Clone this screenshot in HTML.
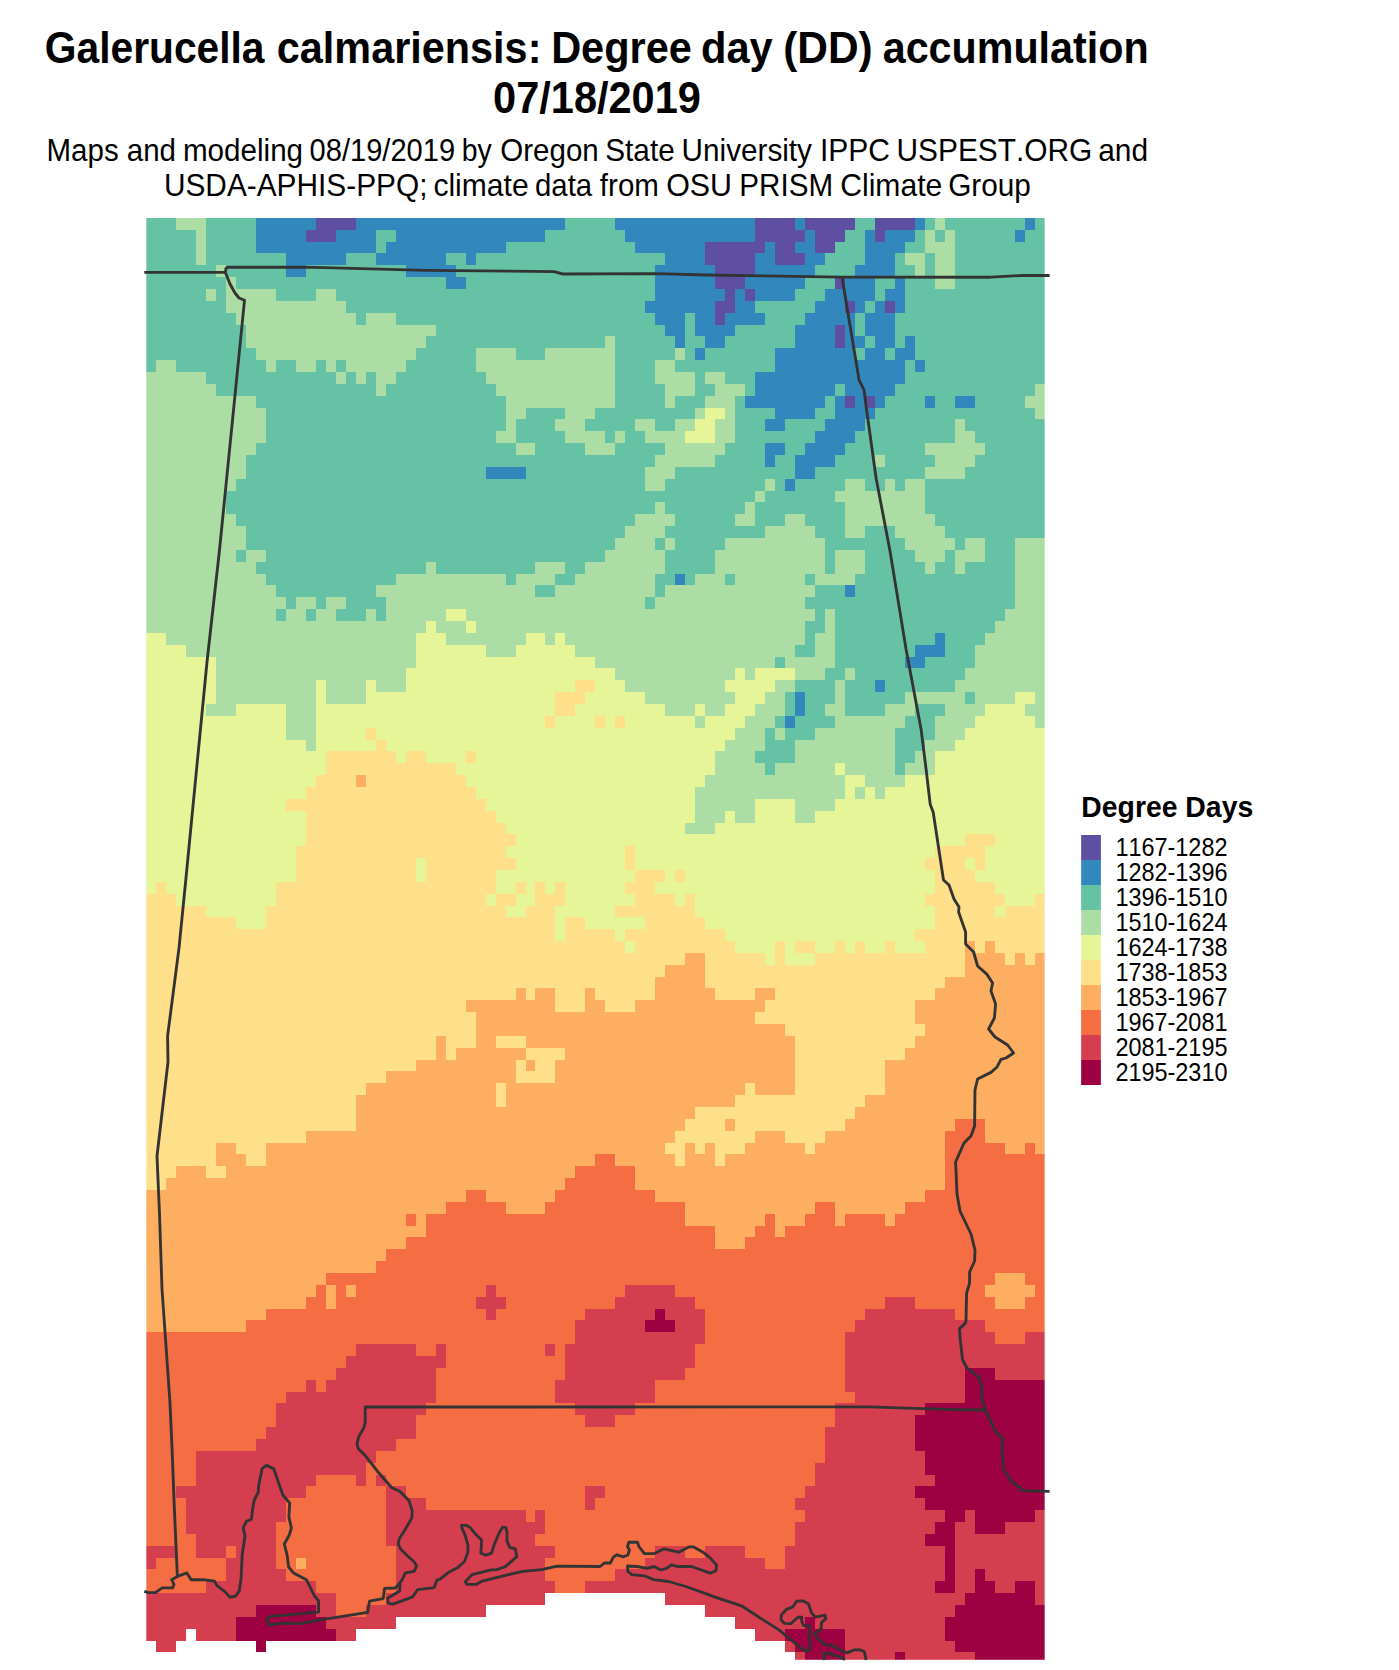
<!DOCTYPE html>
<html lang="en">
<head>
<meta charset="utf-8">
<title>Galerucella calmariensis: Degree day (DD) accumulation 07/18/2019</title>
<style>
html,body{margin:0;padding:0;background:#fff}
body{width:1399px;height:1670px;overflow:hidden}
svg{display:block}
text{font-family:"Liberation Sans",Arial,Helvetica,sans-serif;fill:#000;font-kerning:none}
.t1{font-size:43.5px;font-weight:bold}
.t2{font-size:30.8px}
.lt{font-size:30px;font-weight:bold}
.ll{font-size:25px}
.k0{fill:#5E4FA2}.k1{fill:#3288BD}.k2{fill:#66C2A5}.k3{fill:#ABDDA4}.k4{fill:#E6F598}.k5{fill:#FEE08B}.k6{fill:#FDAE61}.k7{fill:#F46D43}.k8{fill:#D53E4F}.k9{fill:#9E0142}.kw{fill:#FFFFFF}
.b{fill:none;stroke:#333;stroke-width:2.85;stroke-linejoin:round;stroke-linecap:butt}
</style>
</head>
<body>
<svg width="1399" height="1670" viewBox="0 0 1399 1670">
<rect x="0" y="0" width="1399" height="1670" fill="#fff"/>
<text class="t1" xml:space="preserve" transform="translate(44.79,62.6) scale(0.9372,1)">Galerucella </text><text class="t1" xml:space="preserve" transform="translate(276.80,62.6) scale(0.9519,1)">calmariensis: </text><text class="t1" xml:space="preserve" transform="translate(551.13,62.6) scale(0.9541,1)">Degree </text><text class="t1" xml:space="preserve" transform="translate(700.94,62.6) scale(0.9578,1)">day </text><text class="t1" xml:space="preserve" transform="translate(783.18,62.6) scale(0.9751,1)">(DD) </text><text class="t1" xml:space="preserve" transform="translate(882.72,62.6) scale(0.9487,1)">accumulation</text>
<text class="t1" xml:space="preserve" transform="translate(493.10,112.5) scale(0.9545,1)">07/18/2019</text>
<text class="t2" xml:space="preserve" transform="translate(46.53,160.85) scale(0.9580,1)">Maps </text><text class="t2" xml:space="preserve" transform="translate(126.75,160.85) scale(0.9585,1)">and </text><text class="t2" xml:space="preserve" transform="translate(182.93,160.85) scale(0.9615,1)">modeling </text><text class="t2" xml:space="preserve" transform="translate(309.59,160.85) scale(0.9442,1)">08/19/2019 </text><text class="t2" xml:space="preserve" transform="translate(461.68,160.85) scale(0.9213,1)">by </text><text class="t2" xml:space="preserve" transform="translate(500.33,160.85) scale(0.9586,1)">Oregon </text><text class="t2" xml:space="preserve" transform="translate(605.26,160.85) scale(0.9662,1)">State </text><text class="t2" xml:space="preserve" transform="translate(681.62,160.85) scale(0.9643,1)">University </text><text class="t2" xml:space="preserve" transform="translate(819.92,160.85) scale(0.9753,1)">IPPC </text><text class="t2" xml:space="preserve" transform="translate(896.51,160.85) scale(0.9693,1)">USPEST.ORG </text><text class="t2" xml:space="preserve" transform="translate(1098.13,160.85) scale(0.9711,1)">and</text>
<text class="t2" xml:space="preserve" transform="translate(163.91,195.65) scale(0.9690,1)">USDA-APHIS-PPQ; </text><text class="t2" xml:space="preserve" transform="translate(433.38,195.65) scale(0.9765,1)">climate </text><text class="t2" xml:space="preserve" transform="translate(535.04,195.65) scale(0.9534,1)">data </text><text class="t2" xml:space="preserve" transform="translate(599.87,195.65) scale(0.9579,1)">from </text><text class="t2" xml:space="preserve" transform="translate(666.18,195.65) scale(0.9861,1)">OSU </text><text class="t2" xml:space="preserve" transform="translate(739.26,195.65) scale(0.9623,1)">PRISM </text><text class="t2" xml:space="preserve" transform="translate(840.24,195.65) scale(0.9782,1)">Climate </text><text class="t2" xml:space="preserve" transform="translate(948.16,195.65) scale(0.9656,1)">Group</text>
<g id="raster" shape-rendering="crispEdges">
<rect class="k2" x="146" y="218" width="30" height="12"/>
<rect class="k3" x="176" y="218" width="30" height="12"/>
<rect class="k2" x="206" y="218" width="50" height="35"/>
<rect class="k1" x="256" y="218" width="60" height="12"/>
<rect class="k0" x="316" y="218" width="40" height="12"/>
<rect class="k1" x="356" y="218" width="209" height="12"/>
<rect class="k2" x="565" y="218" width="50" height="12"/>
<rect class="k1" x="615" y="218" width="140" height="12"/>
<rect class="k0" x="755" y="218" width="40" height="12"/>
<rect class="k1" x="795" y="218" width="10" height="12"/>
<rect class="k0" x="805" y="218" width="50" height="12"/>
<rect class="k2" x="855" y="218" width="20" height="12"/>
<rect class="k0" x="875" y="218" width="40" height="12"/>
<rect class="k1" x="915" y="218" width="10" height="12"/>
<rect class="k2" x="925" y="218" width="10" height="12"/>
<rect class="k3" x="935" y="218" width="10" height="12"/>
<rect class="k2" x="945" y="218" width="80" height="12"/>
<rect class="k1" x="1025" y="218" width="10" height="12"/>
<rect class="k2" x="1035" y="218" width="10" height="12"/>
<rect class="k2" x="146" y="230" width="50" height="35"/>
<rect class="k3" x="196" y="230" width="10" height="35"/>
<rect class="k1" x="256" y="230" width="50" height="12"/>
<rect class="k0" x="306" y="230" width="30" height="12"/>
<rect class="k1" x="336" y="230" width="40" height="12"/>
<rect class="k2" x="376" y="230" width="20" height="12"/>
<rect class="k1" x="396" y="230" width="149" height="12"/>
<rect class="k2" x="545" y="230" width="80" height="12"/>
<rect class="k1" x="625" y="230" width="130" height="12"/>
<rect class="k0" x="755" y="230" width="50" height="12"/>
<rect class="k1" x="805" y="230" width="10" height="12"/>
<rect class="k0" x="815" y="230" width="30" height="12"/>
<rect class="k2" x="845" y="230" width="20" height="12"/>
<rect class="k1" x="865" y="230" width="10" height="12"/>
<rect class="k0" x="875" y="230" width="10" height="12"/>
<rect class="k1" x="885" y="230" width="30" height="12"/>
<rect class="k2" x="915" y="230" width="10" height="12"/>
<rect class="k3" x="925" y="230" width="10" height="12"/>
<rect class="k2" x="935" y="230" width="10" height="12"/>
<rect class="k3" x="945" y="230" width="10" height="12"/>
<rect class="k2" x="955" y="230" width="60" height="12"/>
<rect class="k1" x="1015" y="230" width="10" height="12"/>
<rect class="k2" x="1025" y="230" width="20" height="12"/>
<rect class="k1" x="256" y="242" width="120" height="11"/>
<rect class="k2" x="376" y="242" width="10" height="11"/>
<rect class="k1" x="386" y="242" width="120" height="11"/>
<rect class="k2" x="506" y="242" width="129" height="11"/>
<rect class="k1" x="635" y="242" width="70" height="11"/>
<rect class="k0" x="705" y="242" width="60" height="11"/>
<rect class="k1" x="765" y="242" width="10" height="11"/>
<rect class="k0" x="775" y="242" width="20" height="11"/>
<rect class="k1" x="795" y="242" width="20" height="11"/>
<rect class="k0" x="815" y="242" width="20" height="11"/>
<rect class="k2" x="835" y="242" width="30" height="11"/>
<rect class="k1" x="865" y="242" width="40" height="11"/>
<rect class="k2" x="905" y="242" width="20" height="11"/>
<rect class="k3" x="925" y="242" width="30" height="11"/>
<rect class="k2" x="955" y="242" width="90" height="47"/>
<rect class="k2" x="206" y="253" width="80" height="12"/>
<rect class="k1" x="286" y="253" width="60" height="12"/>
<rect class="k2" x="346" y="253" width="30" height="12"/>
<rect class="k1" x="376" y="253" width="70" height="12"/>
<rect class="k2" x="446" y="253" width="20" height="12"/>
<rect class="k1" x="466" y="253" width="10" height="12"/>
<rect class="k2" x="476" y="253" width="189" height="12"/>
<rect class="k1" x="665" y="253" width="40" height="12"/>
<rect class="k0" x="705" y="253" width="50" height="12"/>
<rect class="k1" x="755" y="253" width="20" height="12"/>
<rect class="k0" x="775" y="253" width="30" height="12"/>
<rect class="k1" x="805" y="253" width="20" height="12"/>
<rect class="k2" x="825" y="253" width="40" height="12"/>
<rect class="k1" x="865" y="253" width="30" height="12"/>
<rect class="k2" x="895" y="253" width="10" height="12"/>
<rect class="k3" x="905" y="253" width="20" height="12"/>
<rect class="k2" x="925" y="253" width="10" height="24"/>
<rect class="k3" x="935" y="253" width="20" height="36"/>
<rect class="k2" x="146" y="265" width="70" height="12"/>
<rect class="k3" x="216" y="265" width="10" height="12"/>
<rect class="k2" x="226" y="265" width="60" height="12"/>
<rect class="k1" x="286" y="265" width="20" height="12"/>
<rect class="k2" x="306" y="265" width="100" height="12"/>
<rect class="k1" x="406" y="265" width="50" height="12"/>
<rect class="k2" x="456" y="265" width="199" height="12"/>
<rect class="k1" x="655" y="265" width="60" height="24"/>
<rect class="k0" x="715" y="265" width="40" height="12"/>
<rect class="k1" x="755" y="265" width="60" height="12"/>
<rect class="k2" x="815" y="265" width="40" height="12"/>
<rect class="k1" x="855" y="265" width="40" height="12"/>
<rect class="k2" x="895" y="265" width="20" height="12"/>
<rect class="k3" x="915" y="265" width="10" height="12"/>
<rect class="k2" x="146" y="277" width="80" height="12"/>
<rect class="k3" x="226" y="277" width="10" height="12"/>
<rect class="k2" x="236" y="277" width="210" height="12"/>
<rect class="k1" x="446" y="277" width="20" height="12"/>
<rect class="k2" x="466" y="277" width="189" height="12"/>
<rect class="k0" x="715" y="277" width="30" height="12"/>
<rect class="k1" x="745" y="277" width="60" height="12"/>
<rect class="k2" x="805" y="277" width="30" height="12"/>
<rect class="k0" x="835" y="277" width="10" height="12"/>
<rect class="k1" x="845" y="277" width="30" height="12"/>
<rect class="k2" x="875" y="277" width="20" height="12"/>
<rect class="k1" x="895" y="277" width="10" height="12"/>
<rect class="k2" x="905" y="277" width="30" height="12"/>
<rect class="k2" x="146" y="289" width="60" height="12"/>
<rect class="k3" x="206" y="289" width="10" height="12"/>
<rect class="k2" x="216" y="289" width="10" height="12"/>
<rect class="k3" x="226" y="289" width="50" height="12"/>
<rect class="k2" x="276" y="289" width="40" height="12"/>
<rect class="k3" x="316" y="289" width="20" height="12"/>
<rect class="k2" x="336" y="289" width="319" height="12"/>
<rect class="k1" x="655" y="289" width="70" height="12"/>
<rect class="k0" x="725" y="289" width="10" height="12"/>
<rect class="k1" x="735" y="289" width="10" height="12"/>
<rect class="k0" x="745" y="289" width="10" height="12"/>
<rect class="k1" x="755" y="289" width="40" height="12"/>
<rect class="k2" x="795" y="289" width="30" height="12"/>
<rect class="k1" x="825" y="289" width="50" height="12"/>
<rect class="k2" x="875" y="289" width="10" height="12"/>
<rect class="k1" x="885" y="289" width="20" height="12"/>
<rect class="k2" x="905" y="289" width="140" height="24"/>
<rect class="k2" x="146" y="301" width="80" height="12"/>
<rect class="k3" x="226" y="301" width="120" height="12"/>
<rect class="k2" x="346" y="301" width="299" height="12"/>
<rect class="k1" x="645" y="301" width="70" height="12"/>
<rect class="k0" x="715" y="301" width="20" height="12"/>
<rect class="k1" x="735" y="301" width="20" height="12"/>
<rect class="k2" x="755" y="301" width="60" height="12"/>
<rect class="k1" x="815" y="301" width="30" height="12"/>
<rect class="k0" x="845" y="301" width="10" height="12"/>
<rect class="k1" x="855" y="301" width="10" height="12"/>
<rect class="k2" x="865" y="301" width="10" height="12"/>
<rect class="k1" x="875" y="301" width="10" height="12"/>
<rect class="k0" x="885" y="301" width="10" height="12"/>
<rect class="k1" x="895" y="301" width="10" height="12"/>
<rect class="k2" x="146" y="313" width="90" height="12"/>
<rect class="k3" x="236" y="313" width="120" height="12"/>
<rect class="k2" x="356" y="313" width="10" height="12"/>
<rect class="k3" x="366" y="313" width="30" height="12"/>
<rect class="k2" x="396" y="313" width="259" height="12"/>
<rect class="k1" x="655" y="313" width="30" height="12"/>
<rect class="k2" x="685" y="313" width="10" height="23"/>
<rect class="k1" x="695" y="313" width="20" height="12"/>
<rect class="k0" x="715" y="313" width="10" height="12"/>
<rect class="k1" x="725" y="313" width="40" height="12"/>
<rect class="k2" x="765" y="313" width="40" height="12"/>
<rect class="k1" x="805" y="313" width="50" height="12"/>
<rect class="k2" x="855" y="313" width="10" height="23"/>
<rect class="k1" x="865" y="313" width="30" height="23"/>
<rect class="k2" x="895" y="313" width="150" height="23"/>
<rect class="k2" x="146" y="325" width="100" height="23"/>
<rect class="k3" x="246" y="325" width="190" height="11"/>
<rect class="k2" x="436" y="325" width="229" height="11"/>
<rect class="k1" x="665" y="325" width="20" height="11"/>
<rect class="k1" x="695" y="325" width="40" height="11"/>
<rect class="k2" x="735" y="325" width="60" height="11"/>
<rect class="k1" x="795" y="325" width="40" height="23"/>
<rect class="k0" x="835" y="325" width="10" height="23"/>
<rect class="k1" x="845" y="325" width="10" height="11"/>
<rect class="k3" x="246" y="336" width="180" height="12"/>
<rect class="k2" x="426" y="336" width="179" height="12"/>
<rect class="k3" x="605" y="336" width="10" height="12"/>
<rect class="k2" x="615" y="336" width="60" height="24"/>
<rect class="k1" x="675" y="336" width="10" height="12"/>
<rect class="k2" x="685" y="336" width="20" height="12"/>
<rect class="k1" x="705" y="336" width="20" height="12"/>
<rect class="k2" x="725" y="336" width="70" height="12"/>
<rect class="k1" x="845" y="336" width="20" height="12"/>
<rect class="k2" x="865" y="336" width="10" height="12"/>
<rect class="k1" x="875" y="336" width="20" height="12"/>
<rect class="k2" x="895" y="336" width="10" height="12"/>
<rect class="k1" x="905" y="336" width="10" height="12"/>
<rect class="k2" x="915" y="336" width="130" height="24"/>
<rect class="k2" x="146" y="348" width="110" height="12"/>
<rect class="k3" x="256" y="348" width="160" height="12"/>
<rect class="k2" x="416" y="348" width="60" height="12"/>
<rect class="k3" x="476" y="348" width="40" height="12"/>
<rect class="k2" x="516" y="348" width="29" height="12"/>
<rect class="k3" x="545" y="348" width="70" height="12"/>
<rect class="k3" x="675" y="348" width="10" height="12"/>
<rect class="k2" x="685" y="348" width="10" height="12"/>
<rect class="k1" x="695" y="348" width="10" height="12"/>
<rect class="k2" x="705" y="348" width="70" height="12"/>
<rect class="k1" x="775" y="348" width="80" height="12"/>
<rect class="k2" x="855" y="348" width="10" height="12"/>
<rect class="k1" x="865" y="348" width="20" height="12"/>
<rect class="k2" x="885" y="348" width="10" height="12"/>
<rect class="k1" x="895" y="348" width="20" height="12"/>
<rect class="k2" x="146" y="360" width="10" height="12"/>
<rect class="k3" x="156" y="360" width="20" height="12"/>
<rect class="k2" x="176" y="360" width="90" height="12"/>
<rect class="k3" x="266" y="360" width="10" height="12"/>
<rect class="k2" x="276" y="360" width="20" height="12"/>
<rect class="k3" x="296" y="360" width="20" height="12"/>
<rect class="k2" x="316" y="360" width="10" height="12"/>
<rect class="k3" x="326" y="360" width="10" height="12"/>
<rect class="k2" x="336" y="360" width="10" height="12"/>
<rect class="k3" x="346" y="360" width="60" height="12"/>
<rect class="k2" x="406" y="360" width="70" height="12"/>
<rect class="k3" x="476" y="360" width="139" height="12"/>
<rect class="k2" x="615" y="360" width="40" height="24"/>
<rect class="k3" x="655" y="360" width="20" height="12"/>
<rect class="k2" x="675" y="360" width="100" height="12"/>
<rect class="k1" x="775" y="360" width="130" height="12"/>
<rect class="k2" x="905" y="360" width="10" height="12"/>
<rect class="k1" x="915" y="360" width="10" height="12"/>
<rect class="k2" x="925" y="360" width="120" height="12"/>
<rect class="k3" x="146" y="372" width="60" height="12"/>
<rect class="k2" x="206" y="372" width="130" height="12"/>
<rect class="k3" x="336" y="372" width="10" height="12"/>
<rect class="k2" x="346" y="372" width="10" height="12"/>
<rect class="k3" x="356" y="372" width="10" height="12"/>
<rect class="k2" x="366" y="372" width="10" height="12"/>
<rect class="k3" x="376" y="372" width="20" height="12"/>
<rect class="k2" x="396" y="372" width="90" height="12"/>
<rect class="k3" x="486" y="372" width="129" height="12"/>
<rect class="k3" x="655" y="372" width="40" height="12"/>
<rect class="k2" x="695" y="372" width="10" height="12"/>
<rect class="k3" x="705" y="372" width="20" height="12"/>
<rect class="k2" x="725" y="372" width="30" height="12"/>
<rect class="k1" x="755" y="372" width="150" height="12"/>
<rect class="k2" x="905" y="372" width="140" height="12"/>
<rect class="k3" x="146" y="384" width="70" height="12"/>
<rect class="k2" x="216" y="384" width="160" height="12"/>
<rect class="k3" x="376" y="384" width="10" height="12"/>
<rect class="k2" x="386" y="384" width="110" height="12"/>
<rect class="k3" x="496" y="384" width="119" height="12"/>
<rect class="k2" x="615" y="384" width="50" height="24"/>
<rect class="k3" x="665" y="384" width="30" height="12"/>
<rect class="k2" x="695" y="384" width="20" height="12"/>
<rect class="k3" x="715" y="384" width="30" height="12"/>
<rect class="k2" x="745" y="384" width="10" height="12"/>
<rect class="k1" x="755" y="384" width="80" height="12"/>
<rect class="k2" x="835" y="384" width="10" height="12"/>
<rect class="k1" x="845" y="384" width="50" height="12"/>
<rect class="k2" x="895" y="384" width="140" height="12"/>
<rect class="k3" x="1035" y="384" width="10" height="12"/>
<rect class="k3" x="146" y="396" width="110" height="12"/>
<rect class="k2" x="256" y="396" width="250" height="12"/>
<rect class="k3" x="506" y="396" width="109" height="12"/>
<rect class="k3" x="665" y="396" width="10" height="12"/>
<rect class="k2" x="675" y="396" width="30" height="12"/>
<rect class="k3" x="705" y="396" width="30" height="12"/>
<rect class="k2" x="735" y="396" width="10" height="12"/>
<rect class="k1" x="745" y="396" width="80" height="12"/>
<rect class="k2" x="825" y="396" width="10" height="12"/>
<rect class="k1" x="835" y="396" width="10" height="12"/>
<rect class="k0" x="845" y="396" width="10" height="12"/>
<rect class="k1" x="855" y="396" width="10" height="12"/>
<rect class="k0" x="865" y="396" width="10" height="12"/>
<rect class="k1" x="875" y="396" width="10" height="12"/>
<rect class="k2" x="885" y="396" width="40" height="12"/>
<rect class="k1" x="925" y="396" width="10" height="12"/>
<rect class="k2" x="935" y="396" width="20" height="12"/>
<rect class="k1" x="955" y="396" width="20" height="12"/>
<rect class="k2" x="975" y="396" width="50" height="12"/>
<rect class="k3" x="1025" y="396" width="20" height="12"/>
<rect class="k3" x="146" y="408" width="120" height="35"/>
<rect class="k2" x="266" y="408" width="240" height="23"/>
<rect class="k3" x="506" y="408" width="20" height="11"/>
<rect class="k2" x="526" y="408" width="39" height="11"/>
<rect class="k3" x="565" y="408" width="30" height="11"/>
<rect class="k2" x="595" y="408" width="100" height="11"/>
<rect class="k3" x="695" y="408" width="10" height="11"/>
<rect class="k4" x="705" y="408" width="20" height="11"/>
<rect class="k3" x="725" y="408" width="10" height="11"/>
<rect class="k2" x="735" y="408" width="40" height="11"/>
<rect class="k1" x="775" y="408" width="40" height="11"/>
<rect class="k2" x="815" y="408" width="20" height="11"/>
<rect class="k1" x="835" y="408" width="40" height="11"/>
<rect class="k2" x="875" y="408" width="160" height="11"/>
<rect class="k3" x="1035" y="408" width="10" height="11"/>
<rect class="k3" x="506" y="419" width="10" height="12"/>
<rect class="k2" x="516" y="419" width="39" height="12"/>
<rect class="k3" x="555" y="419" width="30" height="12"/>
<rect class="k2" x="585" y="419" width="50" height="12"/>
<rect class="k3" x="635" y="419" width="20" height="12"/>
<rect class="k2" x="655" y="419" width="20" height="12"/>
<rect class="k3" x="675" y="419" width="20" height="12"/>
<rect class="k4" x="695" y="419" width="20" height="12"/>
<rect class="k3" x="715" y="419" width="20" height="24"/>
<rect class="k2" x="735" y="419" width="30" height="12"/>
<rect class="k1" x="765" y="419" width="20" height="12"/>
<rect class="k2" x="785" y="419" width="40" height="12"/>
<rect class="k1" x="825" y="419" width="40" height="12"/>
<rect class="k2" x="865" y="419" width="90" height="12"/>
<rect class="k3" x="955" y="419" width="10" height="12"/>
<rect class="k2" x="965" y="419" width="80" height="12"/>
<rect class="k2" x="266" y="431" width="230" height="12"/>
<rect class="k3" x="496" y="431" width="20" height="12"/>
<rect class="k2" x="516" y="431" width="49" height="12"/>
<rect class="k3" x="565" y="431" width="40" height="12"/>
<rect class="k2" x="605" y="431" width="10" height="12"/>
<rect class="k3" x="615" y="431" width="10" height="12"/>
<rect class="k2" x="625" y="431" width="20" height="12"/>
<rect class="k3" x="645" y="431" width="40" height="12"/>
<rect class="k4" x="685" y="431" width="30" height="12"/>
<rect class="k2" x="735" y="431" width="80" height="12"/>
<rect class="k1" x="815" y="431" width="40" height="12"/>
<rect class="k2" x="855" y="431" width="100" height="12"/>
<rect class="k3" x="955" y="431" width="20" height="12"/>
<rect class="k2" x="975" y="431" width="70" height="12"/>
<rect class="k3" x="146" y="443" width="110" height="12"/>
<rect class="k2" x="256" y="443" width="260" height="12"/>
<rect class="k3" x="516" y="443" width="19" height="12"/>
<rect class="k2" x="535" y="443" width="50" height="12"/>
<rect class="k3" x="585" y="443" width="30" height="12"/>
<rect class="k2" x="615" y="443" width="50" height="12"/>
<rect class="k3" x="665" y="443" width="60" height="12"/>
<rect class="k2" x="725" y="443" width="40" height="12"/>
<rect class="k1" x="765" y="443" width="20" height="12"/>
<rect class="k2" x="785" y="443" width="20" height="12"/>
<rect class="k1" x="805" y="443" width="40" height="12"/>
<rect class="k2" x="845" y="443" width="80" height="12"/>
<rect class="k3" x="925" y="443" width="60" height="12"/>
<rect class="k2" x="985" y="443" width="60" height="12"/>
<rect class="k3" x="146" y="455" width="100" height="24"/>
<rect class="k2" x="246" y="455" width="409" height="12"/>
<rect class="k3" x="655" y="455" width="60" height="12"/>
<rect class="k2" x="715" y="455" width="50" height="12"/>
<rect class="k1" x="765" y="455" width="10" height="12"/>
<rect class="k2" x="775" y="455" width="20" height="12"/>
<rect class="k1" x="795" y="455" width="40" height="12"/>
<rect class="k2" x="835" y="455" width="40" height="12"/>
<rect class="k3" x="875" y="455" width="10" height="12"/>
<rect class="k2" x="885" y="455" width="50" height="12"/>
<rect class="k3" x="935" y="455" width="40" height="12"/>
<rect class="k2" x="975" y="455" width="70" height="12"/>
<rect class="k2" x="246" y="467" width="240" height="12"/>
<rect class="k1" x="486" y="467" width="40" height="12"/>
<rect class="k2" x="526" y="467" width="119" height="12"/>
<rect class="k3" x="645" y="467" width="30" height="12"/>
<rect class="k2" x="675" y="467" width="120" height="12"/>
<rect class="k1" x="795" y="467" width="20" height="12"/>
<rect class="k2" x="815" y="467" width="110" height="12"/>
<rect class="k3" x="925" y="467" width="40" height="12"/>
<rect class="k2" x="965" y="467" width="80" height="12"/>
<rect class="k3" x="146" y="479" width="90" height="12"/>
<rect class="k2" x="236" y="479" width="409" height="12"/>
<rect class="k3" x="645" y="479" width="20" height="12"/>
<rect class="k2" x="665" y="479" width="100" height="12"/>
<rect class="k3" x="765" y="479" width="10" height="12"/>
<rect class="k2" x="775" y="479" width="10" height="12"/>
<rect class="k1" x="785" y="479" width="10" height="12"/>
<rect class="k2" x="795" y="479" width="50" height="12"/>
<rect class="k3" x="845" y="479" width="20" height="12"/>
<rect class="k2" x="865" y="479" width="20" height="12"/>
<rect class="k3" x="885" y="479" width="10" height="12"/>
<rect class="k2" x="895" y="479" width="10" height="12"/>
<rect class="k3" x="905" y="479" width="20" height="12"/>
<rect class="k2" x="925" y="479" width="120" height="35"/>
<rect class="k3" x="146" y="491" width="80" height="23"/>
<rect class="k2" x="226" y="491" width="529" height="11"/>
<rect class="k3" x="755" y="491" width="10" height="11"/>
<rect class="k2" x="765" y="491" width="70" height="11"/>
<rect class="k3" x="835" y="491" width="90" height="11"/>
<rect class="k2" x="226" y="502" width="429" height="12"/>
<rect class="k3" x="655" y="502" width="10" height="12"/>
<rect class="k2" x="665" y="502" width="80" height="12"/>
<rect class="k3" x="745" y="502" width="10" height="12"/>
<rect class="k2" x="755" y="502" width="90" height="12"/>
<rect class="k3" x="845" y="502" width="80" height="12"/>
<rect class="k3" x="146" y="514" width="90" height="12"/>
<rect class="k2" x="236" y="514" width="399" height="12"/>
<rect class="k3" x="635" y="514" width="40" height="12"/>
<rect class="k2" x="675" y="514" width="60" height="12"/>
<rect class="k3" x="735" y="514" width="20" height="12"/>
<rect class="k2" x="755" y="514" width="30" height="12"/>
<rect class="k3" x="785" y="514" width="20" height="12"/>
<rect class="k2" x="805" y="514" width="40" height="12"/>
<rect class="k3" x="845" y="514" width="90" height="12"/>
<rect class="k2" x="935" y="514" width="110" height="12"/>
<rect class="k3" x="146" y="526" width="100" height="24"/>
<rect class="k2" x="246" y="526" width="379" height="12"/>
<rect class="k3" x="625" y="526" width="40" height="12"/>
<rect class="k2" x="665" y="526" width="100" height="12"/>
<rect class="k3" x="765" y="526" width="50" height="12"/>
<rect class="k2" x="815" y="526" width="30" height="12"/>
<rect class="k3" x="845" y="526" width="20" height="12"/>
<rect class="k2" x="865" y="526" width="30" height="12"/>
<rect class="k3" x="895" y="526" width="50" height="12"/>
<rect class="k2" x="945" y="526" width="100" height="12"/>
<rect class="k2" x="246" y="538" width="369" height="12"/>
<rect class="k3" x="615" y="538" width="40" height="12"/>
<rect class="k2" x="655" y="538" width="10" height="12"/>
<rect class="k3" x="665" y="538" width="10" height="12"/>
<rect class="k2" x="675" y="538" width="50" height="12"/>
<rect class="k3" x="725" y="538" width="100" height="12"/>
<rect class="k2" x="825" y="538" width="80" height="12"/>
<rect class="k3" x="905" y="538" width="50" height="12"/>
<rect class="k2" x="955" y="538" width="10" height="12"/>
<rect class="k3" x="965" y="538" width="20" height="12"/>
<rect class="k2" x="985" y="538" width="30" height="24"/>
<rect class="k3" x="1015" y="538" width="30" height="71"/>
<rect class="k3" x="146" y="550" width="90" height="12"/>
<rect class="k2" x="236" y="550" width="10" height="12"/>
<rect class="k3" x="246" y="550" width="20" height="12"/>
<rect class="k2" x="266" y="550" width="339" height="12"/>
<rect class="k3" x="605" y="550" width="60" height="12"/>
<rect class="k2" x="665" y="550" width="50" height="24"/>
<rect class="k3" x="715" y="550" width="110" height="24"/>
<rect class="k2" x="825" y="550" width="10" height="24"/>
<rect class="k3" x="835" y="550" width="30" height="24"/>
<rect class="k2" x="865" y="550" width="50" height="12"/>
<rect class="k3" x="915" y="550" width="30" height="12"/>
<rect class="k2" x="945" y="550" width="10" height="12"/>
<rect class="k3" x="955" y="550" width="30" height="12"/>
<rect class="k3" x="146" y="562" width="110" height="12"/>
<rect class="k2" x="256" y="562" width="170" height="12"/>
<rect class="k3" x="426" y="562" width="10" height="12"/>
<rect class="k2" x="436" y="562" width="99" height="12"/>
<rect class="k3" x="535" y="562" width="30" height="12"/>
<rect class="k2" x="565" y="562" width="20" height="12"/>
<rect class="k3" x="585" y="562" width="80" height="12"/>
<rect class="k2" x="865" y="562" width="60" height="12"/>
<rect class="k3" x="925" y="562" width="10" height="12"/>
<rect class="k2" x="935" y="562" width="20" height="12"/>
<rect class="k3" x="955" y="562" width="10" height="12"/>
<rect class="k2" x="965" y="562" width="50" height="12"/>
<rect class="k3" x="146" y="574" width="120" height="11"/>
<rect class="k2" x="266" y="574" width="130" height="11"/>
<rect class="k3" x="396" y="574" width="110" height="11"/>
<rect class="k2" x="506" y="574" width="10" height="11"/>
<rect class="k3" x="516" y="574" width="39" height="11"/>
<rect class="k2" x="555" y="574" width="20" height="11"/>
<rect class="k3" x="575" y="574" width="80" height="11"/>
<rect class="k2" x="655" y="574" width="20" height="11"/>
<rect class="k1" x="675" y="574" width="10" height="11"/>
<rect class="k2" x="685" y="574" width="10" height="11"/>
<rect class="k3" x="695" y="574" width="30" height="11"/>
<rect class="k2" x="725" y="574" width="10" height="11"/>
<rect class="k3" x="735" y="574" width="70" height="11"/>
<rect class="k2" x="805" y="574" width="10" height="11"/>
<rect class="k3" x="815" y="574" width="40" height="11"/>
<rect class="k2" x="855" y="574" width="160" height="23"/>
<rect class="k3" x="146" y="585" width="130" height="12"/>
<rect class="k2" x="276" y="585" width="100" height="12"/>
<rect class="k3" x="376" y="585" width="159" height="12"/>
<rect class="k2" x="535" y="585" width="20" height="12"/>
<rect class="k3" x="555" y="585" width="100" height="12"/>
<rect class="k2" x="655" y="585" width="10" height="12"/>
<rect class="k3" x="665" y="585" width="150" height="12"/>
<rect class="k2" x="815" y="585" width="30" height="12"/>
<rect class="k1" x="845" y="585" width="10" height="12"/>
<rect class="k3" x="146" y="597" width="140" height="12"/>
<rect class="k2" x="286" y="597" width="10" height="12"/>
<rect class="k3" x="296" y="597" width="20" height="12"/>
<rect class="k2" x="316" y="597" width="10" height="12"/>
<rect class="k3" x="326" y="597" width="20" height="12"/>
<rect class="k2" x="346" y="597" width="40" height="12"/>
<rect class="k3" x="386" y="597" width="259" height="12"/>
<rect class="k2" x="645" y="597" width="10" height="12"/>
<rect class="k3" x="655" y="597" width="150" height="12"/>
<rect class="k2" x="805" y="597" width="210" height="12"/>
<rect class="k3" x="146" y="609" width="130" height="12"/>
<rect class="k2" x="276" y="609" width="10" height="12"/>
<rect class="k3" x="286" y="609" width="20" height="12"/>
<rect class="k2" x="306" y="609" width="10" height="12"/>
<rect class="k3" x="316" y="609" width="20" height="12"/>
<rect class="k2" x="336" y="609" width="30" height="12"/>
<rect class="k3" x="366" y="609" width="10" height="12"/>
<rect class="k2" x="376" y="609" width="10" height="12"/>
<rect class="k3" x="386" y="609" width="60" height="12"/>
<rect class="k4" x="446" y="609" width="20" height="12"/>
<rect class="k3" x="466" y="609" width="349" height="12"/>
<rect class="k2" x="815" y="609" width="10" height="12"/>
<rect class="k3" x="825" y="609" width="10" height="24"/>
<rect class="k2" x="835" y="609" width="170" height="12"/>
<rect class="k3" x="1005" y="609" width="40" height="12"/>
<rect class="k3" x="146" y="621" width="280" height="12"/>
<rect class="k4" x="426" y="621" width="10" height="12"/>
<rect class="k3" x="436" y="621" width="30" height="12"/>
<rect class="k4" x="466" y="621" width="10" height="12"/>
<rect class="k3" x="476" y="621" width="329" height="12"/>
<rect class="k2" x="805" y="621" width="20" height="12"/>
<rect class="k2" x="835" y="621" width="160" height="12"/>
<rect class="k3" x="995" y="621" width="50" height="12"/>
<rect class="k4" x="146" y="633" width="20" height="12"/>
<rect class="k3" x="166" y="633" width="250" height="12"/>
<rect class="k4" x="416" y="633" width="30" height="12"/>
<rect class="k3" x="446" y="633" width="80" height="12"/>
<rect class="k4" x="526" y="633" width="19" height="12"/>
<rect class="k3" x="545" y="633" width="10" height="12"/>
<rect class="k4" x="555" y="633" width="10" height="12"/>
<rect class="k3" x="565" y="633" width="240" height="12"/>
<rect class="k2" x="805" y="633" width="10" height="12"/>
<rect class="k3" x="815" y="633" width="20" height="24"/>
<rect class="k2" x="835" y="633" width="100" height="12"/>
<rect class="k1" x="935" y="633" width="10" height="12"/>
<rect class="k2" x="945" y="633" width="40" height="12"/>
<rect class="k3" x="985" y="633" width="60" height="12"/>
<rect class="k4" x="146" y="645" width="40" height="12"/>
<rect class="k3" x="186" y="645" width="230" height="12"/>
<rect class="k4" x="416" y="645" width="70" height="12"/>
<rect class="k3" x="486" y="645" width="30" height="12"/>
<rect class="k4" x="516" y="645" width="59" height="12"/>
<rect class="k3" x="575" y="645" width="220" height="12"/>
<rect class="k2" x="795" y="645" width="20" height="12"/>
<rect class="k2" x="835" y="645" width="80" height="12"/>
<rect class="k1" x="915" y="645" width="30" height="12"/>
<rect class="k2" x="945" y="645" width="30" height="12"/>
<rect class="k3" x="975" y="645" width="70" height="23"/>
<rect class="k4" x="146" y="657" width="70" height="47"/>
<rect class="k3" x="216" y="657" width="200" height="11"/>
<rect class="k4" x="416" y="657" width="179" height="11"/>
<rect class="k3" x="595" y="657" width="180" height="11"/>
<rect class="k2" x="775" y="657" width="10" height="11"/>
<rect class="k3" x="785" y="657" width="50" height="11"/>
<rect class="k2" x="835" y="657" width="70" height="11"/>
<rect class="k1" x="905" y="657" width="20" height="11"/>
<rect class="k2" x="925" y="657" width="50" height="11"/>
<rect class="k3" x="216" y="668" width="190" height="12"/>
<rect class="k4" x="406" y="668" width="209" height="12"/>
<rect class="k3" x="615" y="668" width="120" height="12"/>
<rect class="k4" x="735" y="668" width="10" height="12"/>
<rect class="k3" x="745" y="668" width="10" height="12"/>
<rect class="k4" x="755" y="668" width="40" height="12"/>
<rect class="k3" x="795" y="668" width="30" height="12"/>
<rect class="k2" x="825" y="668" width="20" height="12"/>
<rect class="k3" x="845" y="668" width="10" height="12"/>
<rect class="k2" x="855" y="668" width="110" height="12"/>
<rect class="k3" x="965" y="668" width="80" height="12"/>
<rect class="k3" x="216" y="680" width="100" height="24"/>
<rect class="k4" x="316" y="680" width="10" height="24"/>
<rect class="k3" x="326" y="680" width="40" height="24"/>
<rect class="k4" x="366" y="680" width="10" height="12"/>
<rect class="k3" x="376" y="680" width="30" height="12"/>
<rect class="k4" x="406" y="680" width="169" height="12"/>
<rect class="k5" x="575" y="680" width="20" height="12"/>
<rect class="k4" x="595" y="680" width="30" height="12"/>
<rect class="k3" x="625" y="680" width="100" height="12"/>
<rect class="k4" x="725" y="680" width="50" height="12"/>
<rect class="k3" x="775" y="680" width="20" height="12"/>
<rect class="k2" x="795" y="680" width="40" height="12"/>
<rect class="k3" x="835" y="680" width="10" height="24"/>
<rect class="k2" x="845" y="680" width="30" height="12"/>
<rect class="k1" x="875" y="680" width="10" height="12"/>
<rect class="k2" x="885" y="680" width="70" height="12"/>
<rect class="k3" x="955" y="680" width="90" height="12"/>
<rect class="k4" x="366" y="692" width="189" height="12"/>
<rect class="k5" x="555" y="692" width="30" height="12"/>
<rect class="k4" x="585" y="692" width="60" height="12"/>
<rect class="k3" x="645" y="692" width="90" height="12"/>
<rect class="k4" x="735" y="692" width="30" height="12"/>
<rect class="k3" x="765" y="692" width="20" height="12"/>
<rect class="k2" x="785" y="692" width="10" height="24"/>
<rect class="k1" x="795" y="692" width="10" height="24"/>
<rect class="k2" x="805" y="692" width="30" height="12"/>
<rect class="k2" x="845" y="692" width="60" height="12"/>
<rect class="k3" x="905" y="692" width="60" height="12"/>
<rect class="k2" x="965" y="692" width="10" height="12"/>
<rect class="k3" x="975" y="692" width="40" height="12"/>
<rect class="k4" x="1015" y="692" width="20" height="12"/>
<rect class="k3" x="1035" y="692" width="10" height="12"/>
<rect class="k4" x="146" y="704" width="60" height="12"/>
<rect class="k3" x="206" y="704" width="30" height="12"/>
<rect class="k4" x="236" y="704" width="50" height="12"/>
<rect class="k3" x="286" y="704" width="30" height="36"/>
<rect class="k4" x="316" y="704" width="239" height="12"/>
<rect class="k5" x="555" y="704" width="20" height="12"/>
<rect class="k4" x="575" y="704" width="90" height="12"/>
<rect class="k3" x="665" y="704" width="30" height="12"/>
<rect class="k4" x="695" y="704" width="10" height="12"/>
<rect class="k3" x="705" y="704" width="20" height="12"/>
<rect class="k4" x="725" y="704" width="30" height="12"/>
<rect class="k3" x="755" y="704" width="30" height="12"/>
<rect class="k2" x="805" y="704" width="20" height="12"/>
<rect class="k3" x="825" y="704" width="20" height="12"/>
<rect class="k2" x="845" y="704" width="40" height="12"/>
<rect class="k3" x="885" y="704" width="30" height="12"/>
<rect class="k2" x="915" y="704" width="30" height="12"/>
<rect class="k3" x="945" y="704" width="40" height="12"/>
<rect class="k4" x="985" y="704" width="40" height="12"/>
<rect class="k3" x="1025" y="704" width="20" height="12"/>
<rect class="k4" x="146" y="716" width="140" height="24"/>
<rect class="k4" x="316" y="716" width="229" height="12"/>
<rect class="k5" x="545" y="716" width="10" height="12"/>
<rect class="k4" x="555" y="716" width="40" height="12"/>
<rect class="k5" x="595" y="716" width="10" height="12"/>
<rect class="k4" x="605" y="716" width="10" height="12"/>
<rect class="k5" x="615" y="716" width="10" height="12"/>
<rect class="k4" x="625" y="716" width="70" height="12"/>
<rect class="k3" x="695" y="716" width="10" height="12"/>
<rect class="k4" x="705" y="716" width="40" height="12"/>
<rect class="k3" x="745" y="716" width="30" height="12"/>
<rect class="k2" x="775" y="716" width="10" height="12"/>
<rect class="k1" x="785" y="716" width="10" height="12"/>
<rect class="k2" x="795" y="716" width="40" height="12"/>
<rect class="k3" x="835" y="716" width="70" height="12"/>
<rect class="k2" x="905" y="716" width="30" height="12"/>
<rect class="k3" x="935" y="716" width="40" height="12"/>
<rect class="k4" x="975" y="716" width="60" height="12"/>
<rect class="k3" x="1035" y="716" width="10" height="12"/>
<rect class="k4" x="316" y="728" width="50" height="12"/>
<rect class="k5" x="366" y="728" width="10" height="12"/>
<rect class="k4" x="376" y="728" width="359" height="12"/>
<rect class="k3" x="735" y="728" width="30" height="12"/>
<rect class="k2" x="765" y="728" width="10" height="12"/>
<rect class="k3" x="775" y="728" width="10" height="12"/>
<rect class="k2" x="785" y="728" width="30" height="12"/>
<rect class="k3" x="815" y="728" width="80" height="12"/>
<rect class="k2" x="895" y="728" width="40" height="12"/>
<rect class="k3" x="935" y="728" width="30" height="12"/>
<rect class="k4" x="965" y="728" width="80" height="12"/>
<rect class="k4" x="146" y="740" width="160" height="11"/>
<rect class="k3" x="306" y="740" width="10" height="11"/>
<rect class="k4" x="316" y="740" width="60" height="11"/>
<rect class="k5" x="376" y="740" width="10" height="11"/>
<rect class="k4" x="386" y="740" width="339" height="11"/>
<rect class="k3" x="725" y="740" width="40" height="11"/>
<rect class="k2" x="765" y="740" width="30" height="11"/>
<rect class="k3" x="795" y="740" width="100" height="23"/>
<rect class="k2" x="895" y="740" width="30" height="11"/>
<rect class="k3" x="925" y="740" width="30" height="11"/>
<rect class="k4" x="955" y="740" width="90" height="11"/>
<rect class="k4" x="146" y="751" width="180" height="24"/>
<rect class="k5" x="326" y="751" width="70" height="12"/>
<rect class="k4" x="396" y="751" width="10" height="12"/>
<rect class="k5" x="406" y="751" width="20" height="12"/>
<rect class="k4" x="426" y="751" width="40" height="12"/>
<rect class="k5" x="466" y="751" width="10" height="12"/>
<rect class="k4" x="476" y="751" width="239" height="12"/>
<rect class="k3" x="715" y="751" width="40" height="12"/>
<rect class="k2" x="755" y="751" width="40" height="12"/>
<rect class="k2" x="895" y="751" width="20" height="12"/>
<rect class="k3" x="915" y="751" width="20" height="12"/>
<rect class="k4" x="935" y="751" width="110" height="24"/>
<rect class="k5" x="326" y="763" width="130" height="12"/>
<rect class="k4" x="456" y="763" width="259" height="12"/>
<rect class="k3" x="715" y="763" width="50" height="12"/>
<rect class="k2" x="765" y="763" width="10" height="12"/>
<rect class="k3" x="775" y="763" width="60" height="12"/>
<rect class="k4" x="835" y="763" width="10" height="12"/>
<rect class="k3" x="845" y="763" width="50" height="12"/>
<rect class="k2" x="895" y="763" width="10" height="12"/>
<rect class="k3" x="905" y="763" width="30" height="12"/>
<rect class="k4" x="146" y="775" width="170" height="12"/>
<rect class="k5" x="316" y="775" width="40" height="12"/>
<rect class="k6" x="356" y="775" width="10" height="12"/>
<rect class="k5" x="366" y="775" width="100" height="12"/>
<rect class="k4" x="466" y="775" width="239" height="12"/>
<rect class="k3" x="705" y="775" width="140" height="12"/>
<rect class="k4" x="845" y="775" width="20" height="12"/>
<rect class="k3" x="865" y="775" width="40" height="12"/>
<rect class="k4" x="905" y="775" width="140" height="12"/>
<rect class="k4" x="146" y="787" width="160" height="12"/>
<rect class="k5" x="306" y="787" width="170" height="12"/>
<rect class="k4" x="476" y="787" width="219" height="12"/>
<rect class="k3" x="695" y="787" width="150" height="12"/>
<rect class="k4" x="845" y="787" width="10" height="12"/>
<rect class="k3" x="855" y="787" width="10" height="12"/>
<rect class="k4" x="865" y="787" width="10" height="12"/>
<rect class="k3" x="875" y="787" width="10" height="12"/>
<rect class="k4" x="885" y="787" width="160" height="12"/>
<rect class="k4" x="146" y="799" width="140" height="12"/>
<rect class="k5" x="286" y="799" width="200" height="12"/>
<rect class="k4" x="486" y="799" width="209" height="12"/>
<rect class="k3" x="695" y="799" width="60" height="12"/>
<rect class="k4" x="755" y="799" width="40" height="24"/>
<rect class="k3" x="795" y="799" width="40" height="12"/>
<rect class="k4" x="835" y="799" width="210" height="12"/>
<rect class="k4" x="146" y="811" width="160" height="35"/>
<rect class="k5" x="306" y="811" width="190" height="12"/>
<rect class="k4" x="496" y="811" width="199" height="12"/>
<rect class="k3" x="695" y="811" width="30" height="12"/>
<rect class="k4" x="725" y="811" width="10" height="12"/>
<rect class="k3" x="735" y="811" width="20" height="12"/>
<rect class="k3" x="795" y="811" width="20" height="12"/>
<rect class="k4" x="815" y="811" width="230" height="12"/>
<rect class="k5" x="306" y="823" width="200" height="11"/>
<rect class="k4" x="506" y="823" width="179" height="11"/>
<rect class="k3" x="685" y="823" width="30" height="11"/>
<rect class="k4" x="715" y="823" width="330" height="11"/>
<rect class="k5" x="306" y="834" width="210" height="12"/>
<rect class="k4" x="516" y="834" width="449" height="12"/>
<rect class="k5" x="965" y="834" width="30" height="12"/>
<rect class="k4" x="995" y="834" width="50" height="12"/>
<rect class="k4" x="146" y="846" width="150" height="36"/>
<rect class="k5" x="296" y="846" width="210" height="12"/>
<rect class="k4" x="506" y="846" width="119" height="12"/>
<rect class="k5" x="625" y="846" width="10" height="24"/>
<rect class="k4" x="635" y="846" width="300" height="12"/>
<rect class="k5" x="935" y="846" width="50" height="12"/>
<rect class="k4" x="985" y="846" width="60" height="24"/>
<rect class="k5" x="296" y="858" width="120" height="24"/>
<rect class="k4" x="416" y="858" width="10" height="24"/>
<rect class="k5" x="426" y="858" width="90" height="12"/>
<rect class="k4" x="516" y="858" width="109" height="12"/>
<rect class="k4" x="635" y="858" width="290" height="12"/>
<rect class="k5" x="925" y="858" width="40" height="12"/>
<rect class="k4" x="965" y="858" width="10" height="12"/>
<rect class="k5" x="975" y="858" width="10" height="12"/>
<rect class="k5" x="426" y="870" width="70" height="12"/>
<rect class="k4" x="496" y="870" width="139" height="12"/>
<rect class="k5" x="635" y="870" width="30" height="12"/>
<rect class="k4" x="665" y="870" width="10" height="12"/>
<rect class="k5" x="675" y="870" width="10" height="12"/>
<rect class="k4" x="685" y="870" width="250" height="12"/>
<rect class="k5" x="935" y="870" width="40" height="12"/>
<rect class="k4" x="975" y="870" width="70" height="12"/>
<rect class="k4" x="146" y="882" width="10" height="12"/>
<rect class="k5" x="156" y="882" width="10" height="12"/>
<rect class="k4" x="166" y="882" width="110" height="12"/>
<rect class="k5" x="276" y="882" width="220" height="12"/>
<rect class="k4" x="496" y="882" width="20" height="12"/>
<rect class="k5" x="516" y="882" width="10" height="12"/>
<rect class="k4" x="526" y="882" width="9" height="12"/>
<rect class="k5" x="535" y="882" width="10" height="12"/>
<rect class="k4" x="545" y="882" width="10" height="12"/>
<rect class="k5" x="555" y="882" width="10" height="12"/>
<rect class="k4" x="565" y="882" width="60" height="12"/>
<rect class="k5" x="625" y="882" width="30" height="12"/>
<rect class="k4" x="655" y="882" width="280" height="12"/>
<rect class="k5" x="935" y="882" width="60" height="12"/>
<rect class="k4" x="995" y="882" width="50" height="12"/>
<rect class="k5" x="146" y="894" width="30" height="12"/>
<rect class="k4" x="176" y="894" width="100" height="12"/>
<rect class="k5" x="276" y="894" width="210" height="12"/>
<rect class="k4" x="486" y="894" width="10" height="12"/>
<rect class="k5" x="496" y="894" width="20" height="12"/>
<rect class="k4" x="516" y="894" width="19" height="12"/>
<rect class="k5" x="535" y="894" width="30" height="12"/>
<rect class="k4" x="565" y="894" width="70" height="12"/>
<rect class="k5" x="635" y="894" width="40" height="12"/>
<rect class="k4" x="675" y="894" width="10" height="12"/>
<rect class="k5" x="685" y="894" width="10" height="12"/>
<rect class="k4" x="695" y="894" width="230" height="12"/>
<rect class="k5" x="925" y="894" width="80" height="12"/>
<rect class="k4" x="1005" y="894" width="30" height="12"/>
<rect class="k5" x="1035" y="894" width="10" height="12"/>
<rect class="k5" x="146" y="906" width="60" height="11"/>
<rect class="k4" x="206" y="906" width="60" height="11"/>
<rect class="k5" x="266" y="906" width="240" height="11"/>
<rect class="k4" x="506" y="906" width="20" height="11"/>
<rect class="k5" x="526" y="906" width="29" height="11"/>
<rect class="k4" x="555" y="906" width="60" height="11"/>
<rect class="k5" x="615" y="906" width="80" height="11"/>
<rect class="k4" x="695" y="906" width="240" height="11"/>
<rect class="k5" x="935" y="906" width="60" height="11"/>
<rect class="k4" x="995" y="906" width="10" height="11"/>
<rect class="k5" x="1005" y="906" width="40" height="11"/>
<rect class="k5" x="146" y="917" width="90" height="12"/>
<rect class="k4" x="236" y="917" width="30" height="12"/>
<rect class="k5" x="266" y="917" width="289" height="12"/>
<rect class="k4" x="555" y="917" width="10" height="24"/>
<rect class="k5" x="565" y="917" width="20" height="12"/>
<rect class="k4" x="585" y="917" width="60" height="12"/>
<rect class="k5" x="645" y="917" width="60" height="12"/>
<rect class="k4" x="705" y="917" width="230" height="12"/>
<rect class="k5" x="935" y="917" width="110" height="12"/>
<rect class="k5" x="146" y="929" width="409" height="12"/>
<rect class="k5" x="565" y="929" width="50" height="12"/>
<rect class="k4" x="615" y="929" width="10" height="12"/>
<rect class="k5" x="625" y="929" width="100" height="12"/>
<rect class="k4" x="725" y="929" width="190" height="12"/>
<rect class="k5" x="915" y="929" width="130" height="12"/>
<rect class="k5" x="146" y="941" width="479" height="12"/>
<rect class="k4" x="625" y="941" width="10" height="12"/>
<rect class="k5" x="635" y="941" width="100" height="12"/>
<rect class="k4" x="735" y="941" width="40" height="12"/>
<rect class="k5" x="775" y="941" width="10" height="24"/>
<rect class="k4" x="785" y="941" width="10" height="12"/>
<rect class="k5" x="795" y="941" width="20" height="12"/>
<rect class="k4" x="815" y="941" width="20" height="12"/>
<rect class="k5" x="835" y="941" width="10" height="12"/>
<rect class="k4" x="845" y="941" width="10" height="12"/>
<rect class="k5" x="855" y="941" width="10" height="12"/>
<rect class="k4" x="865" y="941" width="20" height="12"/>
<rect class="k5" x="885" y="941" width="10" height="12"/>
<rect class="k4" x="895" y="941" width="30" height="12"/>
<rect class="k5" x="925" y="941" width="40" height="12"/>
<rect class="k6" x="965" y="941" width="10" height="12"/>
<rect class="k5" x="975" y="941" width="10" height="12"/>
<rect class="k6" x="985" y="941" width="10" height="12"/>
<rect class="k5" x="995" y="941" width="50" height="12"/>
<rect class="k5" x="146" y="953" width="539" height="12"/>
<rect class="k6" x="685" y="953" width="20" height="12"/>
<rect class="k5" x="705" y="953" width="60" height="12"/>
<rect class="k4" x="765" y="953" width="10" height="12"/>
<rect class="k4" x="785" y="953" width="30" height="12"/>
<rect class="k5" x="815" y="953" width="150" height="12"/>
<rect class="k6" x="965" y="953" width="40" height="12"/>
<rect class="k5" x="1005" y="953" width="10" height="12"/>
<rect class="k6" x="1015" y="953" width="10" height="12"/>
<rect class="k5" x="1025" y="953" width="10" height="12"/>
<rect class="k6" x="1035" y="953" width="10" height="12"/>
<rect class="k5" x="146" y="965" width="519" height="12"/>
<rect class="k6" x="665" y="965" width="40" height="12"/>
<rect class="k5" x="705" y="965" width="260" height="12"/>
<rect class="k6" x="965" y="965" width="80" height="12"/>
<rect class="k5" x="146" y="977" width="509" height="11"/>
<rect class="k6" x="655" y="977" width="50" height="11"/>
<rect class="k5" x="705" y="977" width="240" height="11"/>
<rect class="k6" x="945" y="977" width="100" height="11"/>
<rect class="k5" x="146" y="988" width="370" height="12"/>
<rect class="k6" x="516" y="988" width="10" height="12"/>
<rect class="k5" x="526" y="988" width="9" height="12"/>
<rect class="k6" x="535" y="988" width="20" height="12"/>
<rect class="k5" x="555" y="988" width="30" height="24"/>
<rect class="k6" x="585" y="988" width="10" height="12"/>
<rect class="k5" x="595" y="988" width="60" height="12"/>
<rect class="k6" x="655" y="988" width="60" height="12"/>
<rect class="k5" x="715" y="988" width="40" height="12"/>
<rect class="k6" x="755" y="988" width="20" height="12"/>
<rect class="k5" x="775" y="988" width="160" height="12"/>
<rect class="k6" x="935" y="988" width="110" height="12"/>
<rect class="k5" x="146" y="1000" width="320" height="12"/>
<rect class="k6" x="466" y="1000" width="89" height="12"/>
<rect class="k6" x="585" y="1000" width="20" height="12"/>
<rect class="k5" x="605" y="1000" width="30" height="12"/>
<rect class="k6" x="635" y="1000" width="130" height="12"/>
<rect class="k5" x="765" y="1000" width="150" height="12"/>
<rect class="k6" x="915" y="1000" width="130" height="24"/>
<rect class="k5" x="146" y="1012" width="330" height="24"/>
<rect class="k6" x="476" y="1012" width="279" height="12"/>
<rect class="k5" x="755" y="1012" width="160" height="12"/>
<rect class="k6" x="476" y="1024" width="309" height="12"/>
<rect class="k5" x="785" y="1024" width="140" height="12"/>
<rect class="k6" x="925" y="1024" width="120" height="12"/>
<rect class="k5" x="146" y="1036" width="290" height="24"/>
<rect class="k6" x="436" y="1036" width="10" height="24"/>
<rect class="k5" x="446" y="1036" width="30" height="12"/>
<rect class="k6" x="476" y="1036" width="20" height="12"/>
<rect class="k5" x="496" y="1036" width="30" height="12"/>
<rect class="k6" x="526" y="1036" width="269" height="12"/>
<rect class="k5" x="795" y="1036" width="120" height="12"/>
<rect class="k6" x="915" y="1036" width="130" height="12"/>
<rect class="k5" x="446" y="1048" width="10" height="12"/>
<rect class="k6" x="456" y="1048" width="70" height="12"/>
<rect class="k5" x="526" y="1048" width="39" height="12"/>
<rect class="k6" x="565" y="1048" width="230" height="12"/>
<rect class="k5" x="795" y="1048" width="110" height="12"/>
<rect class="k6" x="905" y="1048" width="140" height="12"/>
<rect class="k5" x="146" y="1060" width="270" height="11"/>
<rect class="k6" x="416" y="1060" width="100" height="11"/>
<rect class="k5" x="516" y="1060" width="10" height="11"/>
<rect class="k6" x="526" y="1060" width="9" height="11"/>
<rect class="k5" x="535" y="1060" width="20" height="11"/>
<rect class="k6" x="555" y="1060" width="240" height="23"/>
<rect class="k5" x="795" y="1060" width="90" height="35"/>
<rect class="k6" x="885" y="1060" width="160" height="35"/>
<rect class="k5" x="146" y="1071" width="240" height="12"/>
<rect class="k6" x="386" y="1071" width="130" height="12"/>
<rect class="k5" x="516" y="1071" width="39" height="12"/>
<rect class="k5" x="146" y="1083" width="220" height="12"/>
<rect class="k6" x="366" y="1083" width="130" height="12"/>
<rect class="k5" x="496" y="1083" width="10" height="24"/>
<rect class="k6" x="506" y="1083" width="239" height="12"/>
<rect class="k5" x="745" y="1083" width="10" height="12"/>
<rect class="k6" x="755" y="1083" width="40" height="12"/>
<rect class="k5" x="146" y="1095" width="210" height="36"/>
<rect class="k6" x="356" y="1095" width="140" height="12"/>
<rect class="k6" x="506" y="1095" width="229" height="12"/>
<rect class="k5" x="735" y="1095" width="130" height="12"/>
<rect class="k6" x="865" y="1095" width="180" height="12"/>
<rect class="k6" x="356" y="1107" width="339" height="12"/>
<rect class="k5" x="695" y="1107" width="160" height="12"/>
<rect class="k6" x="855" y="1107" width="190" height="12"/>
<rect class="k6" x="356" y="1119" width="329" height="12"/>
<rect class="k5" x="685" y="1119" width="40" height="12"/>
<rect class="k6" x="725" y="1119" width="10" height="12"/>
<rect class="k5" x="735" y="1119" width="110" height="12"/>
<rect class="k6" x="845" y="1119" width="110" height="12"/>
<rect class="k7" x="955" y="1119" width="30" height="12"/>
<rect class="k6" x="985" y="1119" width="60" height="24"/>
<rect class="k5" x="146" y="1131" width="160" height="12"/>
<rect class="k6" x="306" y="1131" width="369" height="12"/>
<rect class="k5" x="675" y="1131" width="80" height="12"/>
<rect class="k6" x="755" y="1131" width="30" height="12"/>
<rect class="k5" x="785" y="1131" width="40" height="12"/>
<rect class="k6" x="825" y="1131" width="120" height="12"/>
<rect class="k7" x="945" y="1131" width="40" height="12"/>
<rect class="k5" x="146" y="1143" width="70" height="23"/>
<rect class="k6" x="216" y="1143" width="20" height="11"/>
<rect class="k5" x="236" y="1143" width="30" height="11"/>
<rect class="k6" x="266" y="1143" width="399" height="11"/>
<rect class="k5" x="665" y="1143" width="20" height="11"/>
<rect class="k6" x="685" y="1143" width="10" height="11"/>
<rect class="k5" x="695" y="1143" width="10" height="11"/>
<rect class="k6" x="705" y="1143" width="10" height="11"/>
<rect class="k5" x="715" y="1143" width="30" height="11"/>
<rect class="k6" x="745" y="1143" width="60" height="11"/>
<rect class="k5" x="805" y="1143" width="10" height="11"/>
<rect class="k6" x="815" y="1143" width="130" height="11"/>
<rect class="k7" x="945" y="1143" width="60" height="11"/>
<rect class="k6" x="1005" y="1143" width="20" height="11"/>
<rect class="k7" x="1025" y="1143" width="10" height="11"/>
<rect class="k6" x="1035" y="1143" width="10" height="11"/>
<rect class="k6" x="216" y="1154" width="30" height="12"/>
<rect class="k5" x="246" y="1154" width="20" height="12"/>
<rect class="k6" x="266" y="1154" width="329" height="12"/>
<rect class="k7" x="595" y="1154" width="20" height="12"/>
<rect class="k6" x="615" y="1154" width="60" height="12"/>
<rect class="k5" x="675" y="1154" width="10" height="12"/>
<rect class="k6" x="685" y="1154" width="30" height="12"/>
<rect class="k5" x="715" y="1154" width="10" height="12"/>
<rect class="k6" x="725" y="1154" width="220" height="12"/>
<rect class="k7" x="945" y="1154" width="100" height="36"/>
<rect class="k5" x="146" y="1166" width="30" height="12"/>
<rect class="k6" x="176" y="1166" width="30" height="12"/>
<rect class="k5" x="206" y="1166" width="20" height="12"/>
<rect class="k6" x="226" y="1166" width="349" height="12"/>
<rect class="k7" x="575" y="1166" width="60" height="12"/>
<rect class="k6" x="635" y="1166" width="310" height="24"/>
<rect class="k5" x="146" y="1178" width="20" height="12"/>
<rect class="k6" x="166" y="1178" width="399" height="12"/>
<rect class="k7" x="565" y="1178" width="70" height="12"/>
<rect class="k6" x="146" y="1190" width="320" height="12"/>
<rect class="k7" x="466" y="1190" width="20" height="12"/>
<rect class="k6" x="486" y="1190" width="69" height="12"/>
<rect class="k7" x="555" y="1190" width="100" height="12"/>
<rect class="k6" x="655" y="1190" width="270" height="12"/>
<rect class="k7" x="925" y="1190" width="120" height="12"/>
<rect class="k6" x="146" y="1202" width="300" height="12"/>
<rect class="k7" x="446" y="1202" width="60" height="12"/>
<rect class="k6" x="506" y="1202" width="39" height="12"/>
<rect class="k7" x="545" y="1202" width="140" height="12"/>
<rect class="k6" x="685" y="1202" width="130" height="12"/>
<rect class="k7" x="815" y="1202" width="20" height="12"/>
<rect class="k6" x="835" y="1202" width="70" height="12"/>
<rect class="k7" x="905" y="1202" width="140" height="12"/>
<rect class="k6" x="146" y="1214" width="260" height="12"/>
<rect class="k7" x="406" y="1214" width="10" height="12"/>
<rect class="k6" x="416" y="1214" width="10" height="12"/>
<rect class="k7" x="426" y="1214" width="259" height="12"/>
<rect class="k6" x="685" y="1214" width="80" height="12"/>
<rect class="k7" x="765" y="1214" width="10" height="12"/>
<rect class="k6" x="775" y="1214" width="30" height="12"/>
<rect class="k7" x="805" y="1214" width="30" height="12"/>
<rect class="k6" x="835" y="1214" width="10" height="12"/>
<rect class="k7" x="845" y="1214" width="40" height="12"/>
<rect class="k6" x="885" y="1214" width="10" height="12"/>
<rect class="k7" x="895" y="1214" width="150" height="12"/>
<rect class="k6" x="146" y="1226" width="280" height="11"/>
<rect class="k7" x="426" y="1226" width="289" height="11"/>
<rect class="k6" x="715" y="1226" width="40" height="11"/>
<rect class="k7" x="755" y="1226" width="20" height="11"/>
<rect class="k6" x="775" y="1226" width="10" height="11"/>
<rect class="k7" x="785" y="1226" width="260" height="11"/>
<rect class="k6" x="146" y="1237" width="260" height="12"/>
<rect class="k7" x="406" y="1237" width="309" height="12"/>
<rect class="k6" x="715" y="1237" width="30" height="12"/>
<rect class="k7" x="745" y="1237" width="300" height="12"/>
<rect class="k6" x="146" y="1249" width="240" height="12"/>
<rect class="k7" x="386" y="1249" width="659" height="12"/>
<rect class="k6" x="146" y="1261" width="230" height="12"/>
<rect class="k7" x="376" y="1261" width="669" height="12"/>
<rect class="k6" x="146" y="1273" width="180" height="12"/>
<rect class="k7" x="326" y="1273" width="669" height="12"/>
<rect class="k6" x="995" y="1273" width="30" height="12"/>
<rect class="k7" x="1025" y="1273" width="20" height="12"/>
<rect class="k6" x="146" y="1285" width="170" height="12"/>
<rect class="k7" x="316" y="1285" width="10" height="12"/>
<rect class="k6" x="326" y="1285" width="10" height="24"/>
<rect class="k7" x="336" y="1285" width="10" height="12"/>
<rect class="k6" x="346" y="1285" width="10" height="12"/>
<rect class="k7" x="356" y="1285" width="130" height="12"/>
<rect class="k8" x="486" y="1285" width="10" height="12"/>
<rect class="k7" x="496" y="1285" width="129" height="12"/>
<rect class="k8" x="625" y="1285" width="50" height="12"/>
<rect class="k7" x="675" y="1285" width="310" height="12"/>
<rect class="k6" x="985" y="1285" width="50" height="12"/>
<rect class="k7" x="1035" y="1285" width="10" height="12"/>
<rect class="k6" x="146" y="1297" width="160" height="12"/>
<rect class="k7" x="306" y="1297" width="20" height="12"/>
<rect class="k7" x="336" y="1297" width="140" height="12"/>
<rect class="k8" x="476" y="1297" width="30" height="12"/>
<rect class="k7" x="506" y="1297" width="109" height="12"/>
<rect class="k8" x="615" y="1297" width="80" height="12"/>
<rect class="k7" x="695" y="1297" width="190" height="12"/>
<rect class="k8" x="885" y="1297" width="30" height="12"/>
<rect class="k7" x="915" y="1297" width="80" height="12"/>
<rect class="k6" x="995" y="1297" width="30" height="12"/>
<rect class="k7" x="1025" y="1297" width="20" height="12"/>
<rect class="k6" x="146" y="1309" width="120" height="11"/>
<rect class="k7" x="266" y="1309" width="220" height="11"/>
<rect class="k8" x="486" y="1309" width="10" height="11"/>
<rect class="k7" x="496" y="1309" width="89" height="11"/>
<rect class="k8" x="585" y="1309" width="70" height="11"/>
<rect class="k9" x="655" y="1309" width="10" height="11"/>
<rect class="k8" x="665" y="1309" width="40" height="11"/>
<rect class="k7" x="705" y="1309" width="160" height="11"/>
<rect class="k8" x="865" y="1309" width="90" height="11"/>
<rect class="k7" x="955" y="1309" width="90" height="11"/>
<rect class="k6" x="146" y="1320" width="100" height="12"/>
<rect class="k7" x="246" y="1320" width="329" height="12"/>
<rect class="k8" x="575" y="1320" width="70" height="12"/>
<rect class="k9" x="645" y="1320" width="30" height="12"/>
<rect class="k8" x="675" y="1320" width="30" height="12"/>
<rect class="k7" x="705" y="1320" width="150" height="12"/>
<rect class="k8" x="855" y="1320" width="130" height="12"/>
<rect class="k7" x="985" y="1320" width="60" height="12"/>
<rect class="k7" x="146" y="1332" width="429" height="12"/>
<rect class="k8" x="575" y="1332" width="130" height="12"/>
<rect class="k7" x="705" y="1332" width="140" height="12"/>
<rect class="k8" x="845" y="1332" width="150" height="12"/>
<rect class="k7" x="995" y="1332" width="30" height="12"/>
<rect class="k8" x="1025" y="1332" width="20" height="12"/>
<rect class="k7" x="146" y="1344" width="210" height="12"/>
<rect class="k8" x="356" y="1344" width="60" height="12"/>
<rect class="k7" x="416" y="1344" width="20" height="12"/>
<rect class="k8" x="436" y="1344" width="10" height="12"/>
<rect class="k7" x="446" y="1344" width="99" height="12"/>
<rect class="k8" x="545" y="1344" width="10" height="12"/>
<rect class="k7" x="555" y="1344" width="10" height="12"/>
<rect class="k8" x="565" y="1344" width="130" height="24"/>
<rect class="k7" x="695" y="1344" width="150" height="24"/>
<rect class="k8" x="845" y="1344" width="200" height="24"/>
<rect class="k7" x="146" y="1356" width="200" height="12"/>
<rect class="k8" x="346" y="1356" width="100" height="12"/>
<rect class="k7" x="446" y="1356" width="119" height="12"/>
<rect class="k7" x="146" y="1368" width="190" height="12"/>
<rect class="k8" x="336" y="1368" width="100" height="12"/>
<rect class="k7" x="436" y="1368" width="129" height="12"/>
<rect class="k8" x="565" y="1368" width="120" height="12"/>
<rect class="k7" x="685" y="1368" width="160" height="12"/>
<rect class="k8" x="845" y="1368" width="120" height="24"/>
<rect class="k9" x="965" y="1368" width="30" height="12"/>
<rect class="k8" x="995" y="1368" width="50" height="12"/>
<rect class="k7" x="146" y="1380" width="160" height="12"/>
<rect class="k8" x="306" y="1380" width="10" height="12"/>
<rect class="k7" x="316" y="1380" width="10" height="12"/>
<rect class="k8" x="326" y="1380" width="110" height="12"/>
<rect class="k7" x="436" y="1380" width="119" height="23"/>
<rect class="k8" x="555" y="1380" width="100" height="23"/>
<rect class="k7" x="655" y="1380" width="190" height="12"/>
<rect class="k9" x="965" y="1380" width="80" height="23"/>
<rect class="k7" x="146" y="1392" width="140" height="11"/>
<rect class="k8" x="286" y="1392" width="150" height="11"/>
<rect class="k7" x="655" y="1392" width="200" height="11"/>
<rect class="k8" x="855" y="1392" width="110" height="11"/>
<rect class="k7" x="146" y="1403" width="130" height="24"/>
<rect class="k8" x="276" y="1403" width="150" height="12"/>
<rect class="k7" x="426" y="1403" width="149" height="12"/>
<rect class="k8" x="575" y="1403" width="60" height="12"/>
<rect class="k7" x="635" y="1403" width="200" height="12"/>
<rect class="k8" x="835" y="1403" width="90" height="12"/>
<rect class="k9" x="925" y="1403" width="120" height="12"/>
<rect class="k8" x="276" y="1415" width="140" height="12"/>
<rect class="k7" x="416" y="1415" width="169" height="12"/>
<rect class="k8" x="585" y="1415" width="30" height="12"/>
<rect class="k7" x="615" y="1415" width="220" height="12"/>
<rect class="k8" x="835" y="1415" width="80" height="12"/>
<rect class="k9" x="915" y="1415" width="130" height="36"/>
<rect class="k7" x="146" y="1427" width="120" height="12"/>
<rect class="k8" x="266" y="1427" width="150" height="12"/>
<rect class="k7" x="416" y="1427" width="409" height="12"/>
<rect class="k8" x="825" y="1427" width="90" height="24"/>
<rect class="k7" x="146" y="1439" width="110" height="12"/>
<rect class="k8" x="256" y="1439" width="140" height="12"/>
<rect class="k7" x="396" y="1439" width="429" height="12"/>
<rect class="k7" x="146" y="1451" width="50" height="35"/>
<rect class="k8" x="196" y="1451" width="180" height="12"/>
<rect class="k7" x="376" y="1451" width="449" height="12"/>
<rect class="k8" x="825" y="1451" width="100" height="12"/>
<rect class="k9" x="925" y="1451" width="120" height="24"/>
<rect class="k8" x="196" y="1463" width="170" height="12"/>
<rect class="k7" x="366" y="1463" width="449" height="12"/>
<rect class="k8" x="815" y="1463" width="110" height="12"/>
<rect class="k8" x="196" y="1475" width="120" height="11"/>
<rect class="k7" x="316" y="1475" width="40" height="11"/>
<rect class="k8" x="356" y="1475" width="10" height="11"/>
<rect class="k7" x="366" y="1475" width="10" height="11"/>
<rect class="k8" x="376" y="1475" width="10" height="11"/>
<rect class="k7" x="386" y="1475" width="429" height="11"/>
<rect class="k8" x="815" y="1475" width="120" height="11"/>
<rect class="k9" x="935" y="1475" width="110" height="11"/>
<rect class="k7" x="146" y="1486" width="30" height="12"/>
<rect class="k8" x="176" y="1486" width="130" height="12"/>
<rect class="k7" x="306" y="1486" width="80" height="12"/>
<rect class="k8" x="386" y="1486" width="20" height="12"/>
<rect class="k7" x="406" y="1486" width="179" height="12"/>
<rect class="k8" x="585" y="1486" width="20" height="12"/>
<rect class="k7" x="605" y="1486" width="200" height="12"/>
<rect class="k8" x="805" y="1486" width="110" height="12"/>
<rect class="k9" x="915" y="1486" width="130" height="12"/>
<rect class="k7" x="146" y="1498" width="40" height="36"/>
<rect class="k8" x="186" y="1498" width="100" height="24"/>
<rect class="k7" x="286" y="1498" width="100" height="24"/>
<rect class="k8" x="386" y="1498" width="40" height="12"/>
<rect class="k7" x="426" y="1498" width="159" height="12"/>
<rect class="k8" x="585" y="1498" width="10" height="12"/>
<rect class="k7" x="595" y="1498" width="200" height="12"/>
<rect class="k8" x="795" y="1498" width="130" height="12"/>
<rect class="k9" x="925" y="1498" width="120" height="12"/>
<rect class="k8" x="386" y="1510" width="140" height="12"/>
<rect class="k7" x="526" y="1510" width="9" height="12"/>
<rect class="k8" x="535" y="1510" width="10" height="12"/>
<rect class="k7" x="545" y="1510" width="260" height="12"/>
<rect class="k8" x="805" y="1510" width="140" height="12"/>
<rect class="k9" x="945" y="1510" width="20" height="12"/>
<rect class="k8" x="965" y="1510" width="10" height="12"/>
<rect class="k9" x="975" y="1510" width="60" height="12"/>
<rect class="k8" x="1035" y="1510" width="10" height="12"/>
<rect class="k8" x="186" y="1522" width="90" height="12"/>
<rect class="k7" x="276" y="1522" width="110" height="24"/>
<rect class="k8" x="386" y="1522" width="159" height="12"/>
<rect class="k7" x="545" y="1522" width="250" height="12"/>
<rect class="k8" x="795" y="1522" width="140" height="12"/>
<rect class="k9" x="935" y="1522" width="20" height="12"/>
<rect class="k8" x="955" y="1522" width="20" height="12"/>
<rect class="k9" x="975" y="1522" width="30" height="12"/>
<rect class="k8" x="1005" y="1522" width="40" height="12"/>
<rect class="k7" x="146" y="1534" width="50" height="12"/>
<rect class="k8" x="196" y="1534" width="80" height="12"/>
<rect class="k8" x="386" y="1534" width="149" height="12"/>
<rect class="k7" x="535" y="1534" width="260" height="12"/>
<rect class="k8" x="795" y="1534" width="130" height="12"/>
<rect class="k9" x="925" y="1534" width="30" height="12"/>
<rect class="k8" x="955" y="1534" width="90" height="35"/>
<rect class="k8" x="146" y="1546" width="30" height="12"/>
<rect class="k7" x="176" y="1546" width="20" height="12"/>
<rect class="k8" x="196" y="1546" width="30" height="12"/>
<rect class="k7" x="226" y="1546" width="10" height="12"/>
<rect class="k8" x="236" y="1546" width="40" height="12"/>
<rect class="k7" x="276" y="1546" width="120" height="12"/>
<rect class="k8" x="396" y="1546" width="159" height="12"/>
<rect class="k7" x="555" y="1546" width="100" height="12"/>
<rect class="k8" x="655" y="1546" width="30" height="12"/>
<rect class="k7" x="685" y="1546" width="20" height="12"/>
<rect class="k8" x="705" y="1546" width="40" height="12"/>
<rect class="k7" x="745" y="1546" width="40" height="12"/>
<rect class="k8" x="785" y="1546" width="160" height="23"/>
<rect class="k9" x="945" y="1546" width="10" height="35"/>
<rect class="k8" x="146" y="1558" width="10" height="11"/>
<rect class="k7" x="156" y="1558" width="70" height="11"/>
<rect class="k8" x="226" y="1558" width="50" height="11"/>
<rect class="k7" x="276" y="1558" width="20" height="11"/>
<rect class="k6" x="296" y="1558" width="10" height="11"/>
<rect class="k7" x="306" y="1558" width="90" height="11"/>
<rect class="k8" x="396" y="1558" width="149" height="23"/>
<rect class="k7" x="545" y="1558" width="100" height="11"/>
<rect class="k8" x="645" y="1558" width="120" height="11"/>
<rect class="k7" x="765" y="1558" width="20" height="11"/>
<rect class="k7" x="146" y="1569" width="80" height="12"/>
<rect class="k8" x="226" y="1569" width="60" height="12"/>
<rect class="k7" x="286" y="1569" width="110" height="12"/>
<rect class="k7" x="545" y="1569" width="70" height="12"/>
<rect class="k8" x="615" y="1569" width="330" height="12"/>
<rect class="k8" x="955" y="1569" width="20" height="24"/>
<rect class="k9" x="975" y="1569" width="10" height="12"/>
<rect class="k8" x="985" y="1569" width="60" height="12"/>
<rect class="k7" x="146" y="1581" width="60" height="12"/>
<rect class="k8" x="206" y="1581" width="110" height="12"/>
<rect class="k7" x="316" y="1581" width="80" height="12"/>
<rect class="k8" x="396" y="1581" width="159" height="12"/>
<rect class="k7" x="555" y="1581" width="30" height="12"/>
<rect class="k8" x="585" y="1581" width="350" height="12"/>
<rect class="k9" x="935" y="1581" width="20" height="12"/>
<rect class="k9" x="975" y="1581" width="20" height="12"/>
<rect class="k8" x="995" y="1581" width="20" height="12"/>
<rect class="k9" x="1015" y="1581" width="20" height="12"/>
<rect class="k8" x="1035" y="1581" width="10" height="24"/>
<rect class="k8" x="146" y="1593" width="190" height="12"/>
<rect class="k7" x="336" y="1593" width="50" height="12"/>
<rect class="k8" x="386" y="1593" width="159" height="12"/>
<rect class="k8" x="665" y="1593" width="300" height="12"/>
<rect class="k9" x="965" y="1593" width="70" height="12"/>
<rect class="k8" x="146" y="1605" width="110" height="12"/>
<rect class="k9" x="256" y="1605" width="60" height="12"/>
<rect class="k8" x="316" y="1605" width="20" height="12"/>
<rect class="k7" x="336" y="1605" width="30" height="12"/>
<rect class="k8" x="366" y="1605" width="120" height="12"/>
<rect class="k8" x="705" y="1605" width="250" height="12"/>
<rect class="k9" x="955" y="1605" width="90" height="12"/>
<rect class="k8" x="146" y="1617" width="90" height="12"/>
<rect class="k9" x="236" y="1617" width="90" height="12"/>
<rect class="k8" x="326" y="1617" width="70" height="12"/>
<rect class="k8" x="735" y="1617" width="70" height="12"/>
<rect class="k9" x="805" y="1617" width="10" height="12"/>
<rect class="k8" x="815" y="1617" width="130" height="12"/>
<rect class="k9" x="945" y="1617" width="100" height="24"/>
<rect class="k8" x="146" y="1629" width="40" height="12"/>
<rect class="k8" x="196" y="1629" width="40" height="12"/>
<rect class="k9" x="236" y="1629" width="100" height="12"/>
<rect class="k8" x="336" y="1629" width="20" height="12"/>
<rect class="k8" x="755" y="1629" width="30" height="12"/>
<rect class="k9" x="785" y="1629" width="60" height="12"/>
<rect class="k8" x="845" y="1629" width="100" height="12"/>
<rect class="k8" x="156" y="1641" width="20" height="11"/>
<rect class="k9" x="256" y="1641" width="10" height="11"/>
<rect class="k8" x="785" y="1641" width="10" height="11"/>
<rect class="k9" x="795" y="1641" width="50" height="11"/>
<rect class="k8" x="845" y="1641" width="110" height="11"/>
<rect class="k9" x="955" y="1641" width="90" height="11"/>
<rect class="k8" x="795" y="1652" width="10" height="8"/>
<rect class="k9" x="805" y="1652" width="40" height="8"/>
<rect class="k8" x="845" y="1652" width="50" height="8"/>
<rect class="k9" x="895" y="1652" width="10" height="8"/>
<rect class="k8" x="905" y="1652" width="70" height="8"/>
<rect class="k9" x="975" y="1652" width="70" height="8"/>
</g>
<g id="panelclip">
<rect x="140" y="210" width="6.3" height="1455" fill="#fff"/>
<rect x="1044.65" y="210" width="5" height="1455" fill="#fff"/>
<rect x="140" y="1659.8" width="910" height="5" fill="#fff"/>
</g>
<g id="borders">
<path class="b" d="M144.3,272.3 L225.3,272.3"/>
<path class="b" d="M226.3,267.2 L306,267.2 L426,270.4 L554,271.6 L563,274 L656,273.6 L706,275 L842,277.2 L990.6,277.2 L1021.5,275.5 L1049.6,275.5"/>
<path class="b" d="M226.3,267.2 L225.3,272.3 L230,284 L235,293 L239,298 L244.5,300.3 L219.4,551 L207,662 L185.5,883 L179,948 L167.6,1036 L168,1062 L157,1156 L159.5,1214 L162,1289 L170,1403 L172.1,1450 L174.3,1507 L176,1546 L177.4,1576.4"/>
<path class="b" d="M842.1,277.1 L846.1,302.1 L852.1,338.1 L859.1,380.1 L864.1,390.1 L866.1,406.2 L876.1,478.2 L890,551 L906.2,650.1 L918.2,714.1 L921.2,730.1 L926.2,770.2 L930.2,804.2 L933.2,812.2 L943.5,880 L949,885 L954,899 L959,907 L958.6,912 L965.6,932 L965.6,944 L973.6,952 L977.6,966 L987,974.4 L992.6,983 L991,991 L995.6,1004 L994.4,1018 L988.6,1029 L995,1037 L1007.6,1045 L1013.6,1053 L1006,1058 L1001,1059.4 L997,1067 L991,1072.4 L977.6,1079 L975,1090 L974.6,1126 L971,1136 L964,1143 L955.6,1162 L957,1194 L960,1211 L971,1234 L975,1250 L974.6,1261 L969.6,1272 L969.6,1283 L966.6,1293 L966,1321 L965,1323.6 L959.6,1328.6 L960,1337 L962.6,1360 L967,1368 L979,1377.4 L981.6,1387 L982,1399 L985.6,1410 L995,1431 L1003,1439 L1002,1449 L1003.6,1470 L1012,1482 L1019,1487 L1022,1490.6 L1049.6,1491.4"/>
<path class="b" d="M985.6,1410 L956,1409.6 L906,1408.2 L870,1406.9 L365.2,1407 L365.2,1422.3 L363.8,1428.1 L358.7,1436.7 L357,1443.9 L358.4,1448.9 L364.5,1454.7 L377.4,1471.2 L391.8,1487.7 L399.7,1491.3 L409,1500.6 L412.2,1510.7 L411.9,1517.9 L406.1,1527.9 L399.3,1538.7 L398.2,1543.7 L400.4,1548.8 L407.6,1556 L414.1,1561.7 L416.6,1566 L414.1,1571.3 L405.4,1572.8 L401.8,1580.4 L397.5,1585.7 L395.4,1588 L384.6,1588.3 L383.2,1598.6 L369.5,1601.2 L367.6,1612.4 L330,1618.4 L325.7,1618.8 L300,1623.6 L282.9,1623.1 L269.3,1625 L266.9,1621.4 L267.6,1617.9 L271.4,1616 L282.9,1615.4 L308.6,1612.9 L318.6,1612.1 L318.6,1600.7 L314.3,1595.7 L306.4,1579.7 L293.6,1573.1 L288.6,1566.9 L287.1,1555 L284.3,1544 L289.3,1535 L291.4,1527.9 L288.9,1517.1 L289.7,1503.1 L282.9,1495 L277.9,1480.7 L273.6,1468.6 L266.4,1465.4 L262.1,1468.6 L260.7,1475.7 L258.6,1485.7 L258.3,1492.1 L254.3,1500 L252.9,1507.1 L251.4,1519.3 L246.4,1521.4 L243.1,1527.9 L245,1535.7 L242.1,1555.7 L241.1,1578.6 L239.3,1590.7 L235.7,1596 L230,1597.4 L225.4,1592.1 L217.1,1585.7 L214.3,1581.1 L202.9,1579.7 L191.1,1579.7 L186.9,1572.9 L177.4,1576.4 L171.7,1579.7 L174,1584.3 L172.6,1587.9 L162.1,1587.9 L155.4,1592.6 L148.6,1592.6 L144.3,1591.4"/>
<path class="b" d="M397.5,1585.7 L400.1,1584 L399.7,1591.1 L387.5,1598.3 L388.2,1603.4 L393.2,1604.1 L412.6,1596.9 L417.6,1589.7 L434.2,1587.6 L437,1579.9 L439.9,1579.4 L447.8,1572.8 L457.9,1567.4 L464.3,1561.7 L467.9,1552.4 L467.9,1545.2 L465.1,1535.1 L461.9,1527.9 L461.5,1525.3 L466.5,1525.3 L470.5,1527.9 L475.1,1533.7 L481.6,1540.1 L480.9,1553.1 L485.9,1555.2 L491.6,1553.1 L494.5,1543.7 L498.8,1533.7 L502.4,1527.2 L506,1527.6 L507,1532.2 L507,1540.9 L509.6,1547.3 L515.3,1548.8 L516.8,1556.7 L505.3,1566.7 L496.7,1569.6 L490.9,1569.9 L472.2,1574.6 L465.3,1581.8 L466.8,1584.3 L476.6,1584.3 L482.3,1581.1 L502.4,1576.1 L522.5,1571.3 L541.4,1569.6 L557.2,1566.2 L600.1,1566.5 L604.6,1562.9 L610.1,1563.2 L613.6,1556.9 L616.9,1554.8 L623.6,1556.8 L627.9,1555 L629.4,1550 L627.5,1546.5 L628.9,1542.2 L637.5,1542.2 L638.9,1546.5 L644.4,1553.6 L654.4,1553.6 L663.7,1548.9 L678.7,1552.2 L688.7,1546.9 L693.7,1546.9 L703,1552.2 L710.1,1557.9 L716.6,1565 L715.9,1570.8 L710.1,1573.2 L691.5,1566.5 L677.3,1566.5 L671.5,1564.8 L666.5,1568.3 L660.8,1570 L654.1,1566.5 L647.2,1568.3 L637.2,1566.5 L627.5,1566 L627.9,1571.5 L631.8,1574.6 L644.4,1575.8 L653.7,1579.6 L668.7,1581.5 L685.8,1586.5 L705.8,1593.6 L714.3,1596.9 L741.5,1605.8 L760,1617.9 L779.3,1630.1 L792.9,1641.5 L802.9,1649.4 L807.9,1651.5 L810.1,1649.4 L809.4,1625.8 L803.6,1625.5 L801.8,1621.5 L801.8,1617.2 L797.9,1617.2 L790.8,1623.6 L784.3,1623.3 L781.2,1620.1 L781.2,1615.1 L786.5,1609.3 L792.9,1606.9 L796.5,1601.2 L802.9,1600.8 L808.6,1604 L811.5,1612.9 L815.1,1617.2 L825.1,1615.1 L825.8,1618.6 L821.5,1622.6 L821.2,1628.6 L814.4,1633.6 L819.4,1640.1 L825.8,1645.1 L831.5,1645.1 L843,1651.5 L847.2,1652.9 L854.4,1649.8 L860.1,1649.8 L864.4,1651.5 L866.1,1660"/>
<path class="b" d="M824.4,1660 L823.7,1653.7 L827.2,1652.9 L837.2,1656.1 L845.1,1659.4"/>
</g>
<g id="legend">
<text class="lt" xml:space="preserve" transform="translate(1081.31,816.9) scale(0.9454,1)">Degree </text><text class="lt" xml:space="preserve" transform="translate(1185.30,816.9) scale(0.9479,1)">Days</text>
<rect class="k0" x="1081.15" y="835" width="19.75" height="25"/>
<rect class="k1" x="1081.15" y="860" width="19.75" height="25"/>
<rect class="k2" x="1081.15" y="885" width="19.75" height="25"/>
<rect class="k3" x="1081.15" y="910" width="19.75" height="25"/>
<rect class="k4" x="1081.15" y="935" width="19.75" height="25"/>
<rect class="k5" x="1081.15" y="960" width="19.75" height="25"/>
<rect class="k6" x="1081.15" y="985" width="19.75" height="25"/>
<rect class="k7" x="1081.15" y="1010" width="19.75" height="25"/>
<rect class="k8" x="1081.15" y="1035" width="19.75" height="25"/>
<rect class="k9" x="1081.15" y="1060" width="19.75" height="25"/>
<text class="ll" transform="translate(1115.42,855.8) scale(0.9378,1)">1167-1282</text>
<text class="ll" transform="translate(1115.42,880.8) scale(0.9378,1)">1282-1396</text>
<text class="ll" transform="translate(1115.42,905.8) scale(0.9378,1)">1396-1510</text>
<text class="ll" transform="translate(1115.42,930.7) scale(0.9378,1)">1510-1624</text>
<text class="ll" transform="translate(1115.42,955.7) scale(0.9378,1)">1624-1738</text>
<text class="ll" transform="translate(1115.42,980.7) scale(0.9378,1)">1738-1853</text>
<text class="ll" transform="translate(1115.42,1005.7) scale(0.9378,1)">1853-1967</text>
<text class="ll" transform="translate(1115.42,1030.7) scale(0.9378,1)">1967-2081</text>
<text class="ll" transform="translate(1115.42,1055.6) scale(0.9378,1)">2081-2195</text>
<text class="ll" transform="translate(1115.42,1080.6) scale(0.9378,1)">2195-2310</text>
</g>
</svg>
</body>
</html>
